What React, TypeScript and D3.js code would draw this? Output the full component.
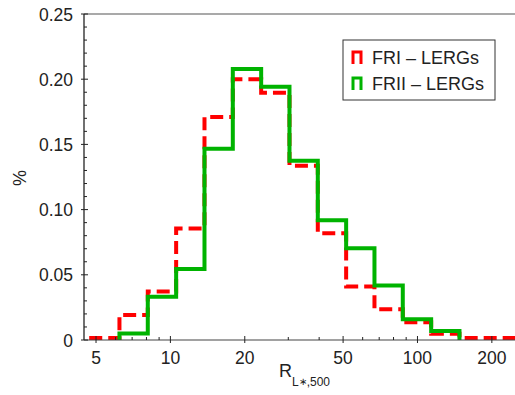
import React from "react";
import * as d3 from "d3";

// Logarithmic bin edges of R_{L*,500}
const binEdges = [4.78, 6.22, 8.1, 10.55, 13.74, 17.89, 23.3, 30.34, 39.5, 51.44, 66.98, 87.21, 113.6, 147.9, 192.6, 250.7];

// Fraction of sources per bin
const friValues = [0.0015, 0.0192, 0.0372, 0.0856, 0.171, 0.2, 0.1897, 0.1337, 0.0818, 0.0411, 0.0235, 0.0136, 0.0048, 0.0016, 0.0016];
const friiValues = [0, 0.0049, 0.0331, 0.0544, 0.1467, 0.2078, 0.1943, 0.1375, 0.0918, 0.0703, 0.0417, 0.016, 0.0069, 0, 0];

const xMajorTicks = [5, 10, 20, 50, 100, 200];
const xMinorTicks = [6, 7, 8, 9, 30, 40, 60, 70, 80, 90, 300];
const yMajorTicks = [0, 0.05, 0.1, 0.15, 0.2, 0.25];
const yTickLabels = ["0", "0.05", "0.10", "0.15", "0.20", "0.25"];
const yMinorTicks = [0.01, 0.02, 0.03, 0.04, 0.06, 0.07, 0.08, 0.09, 0.11, 0.12, 0.13, 0.14, 0.16, 0.17, 0.18, 0.19, 0.21, 0.22, 0.23, 0.24];

const seriesNames = ["FRI – LERGs", "FRII – LERGs"];
const RED = "#ff0000";
const GREEN = "#00b300";
const FONT = "'Liberation Sans', Arial, sans-serif";

const W = 515;
const H = 395;
const left = 84;
const top = 14;
const bottom = 340;

const x = d3.scaleLog().domain([4.47, 260]).range([left, 520]);
const y = d3.scaleLinear().domain([0, 0.25]).range([bottom, top]);

// Outline of a histogram: vertical risers and flat tops, closed to zero at the ends
function stepPoints(values: number[]): [number, number][] {
  const pts: [number, number][] = [];
  const first = values.findIndex((v) => v > 0);
  let last = values.length - 1;
  while (last >= 0 && !(values[last] > 0)) last--;
  pts.push([binEdges[first], 0]);
  for (let i = first; i <= last; i++) {
    pts.push([binEdges[i], values[i]]);
    pts.push([binEdges[i + 1], values[i]]);
  }
  pts.push([binEdges[last + 1], 0]);
  return pts;
}

const line = d3
  .line<[number, number]>()
  .x((d) => x(d[0]))
  .y((d) => y(d[1]));

export default function App() {
  const redPath = line(stepPoints(friValues)) || "";
  const greenPath = line(stepPoints(friiValues)) || "";

  const legendX = 343;
  const legendY = 40;
  const legendRows = [
    { name: seriesNames[0], color: RED, baseline: 64 },
    { name: seriesNames[1], color: GREEN, baseline: 90 },
  ];

  return (
    <svg
      width={W}
      height={H}
      style={{ position: "absolute", left: 0, top: 0, background: "#fff" }}
      fontFamily={FONT}
    >
      <defs>
        <clipPath id="plot-clip">
          <rect x={left} y={top - 5} width={W - left} height={bottom - top + 10} />
        </clipPath>
      </defs>

      {/* histograms */}
      <g clipPath="url(#plot-clip)" fill="none" strokeLinejoin="miter">
        <path d={redPath} stroke={RED} strokeWidth={4} strokeDasharray="13,6" />
        <path d={greenPath} stroke={GREEN} strokeWidth={4} />
      </g>

      {/* frame */}
      <line x1={left} x2={W} y1={top} y2={top} stroke="#555" strokeWidth={1.2} />
      <line x1={left} x2={left} y1={top} y2={bottom} stroke="#111" strokeWidth={1.2} />
      <line x1={left} x2={W} y1={bottom} y2={bottom} stroke="#444" strokeWidth={1.2} />

      {/* x ticks */}
      {xMajorTicks.map((t) => (
        <g key={`xM${t}`}>
          <line x1={x(t)} x2={x(t)} y1={bottom - 4} y2={bottom + 3} stroke="#222" strokeWidth={1} />
          <text x={x(t)} y={364} textAnchor="middle" fontSize={17.5} fill="#222">
            {t}
          </text>
        </g>
      ))}
      {xMinorTicks
        .filter((t) => x(t) < W)
        .map((t) => (
          <line key={`xm${t}`} x1={x(t)} x2={x(t)} y1={bottom - 3} y2={bottom} stroke="#222" strokeWidth={1} />
        ))}

      {/* y ticks */}
      {yMajorTicks.map((t, i) => (
        <g key={`yM${t}`}>
          <line x1={left - 3} x2={left + 4} y1={y(t)} y2={y(t)} stroke="#222" strokeWidth={1} />
          <text x={73} y={y(t) + 6.5} textAnchor="end" fontSize={17.5} fill="#222">
            {yTickLabels[i]}
          </text>
        </g>
      ))}
      {yMinorTicks.map((t) => (
        <line key={`ym${t}`} x1={left} x2={left + 3} y1={y(t)} y2={y(t)} stroke="#222" strokeWidth={1} />
      ))}

      {/* axis titles */}
      <text x={279} y={377} fontSize={18} fill="#222">
        R
        <tspan fontSize={12} dy={9}>L</tspan>
        <tspan fontSize={10} dy={-1}>∗</tspan>
        <tspan fontSize={12} dy={1}>,500</tspan>
      </text>
      <text
        transform={`translate(26,178) rotate(-90)`}
        textAnchor="middle"
        fontSize={18}
        fill="#222"
      >
        %
      </text>

      {/* legend */}
      <rect x={legendX} y={legendY} width={152} height={60} fill="#fff" stroke="#333" strokeWidth={1} />
      {legendRows.map((r) => (
        <g key={r.name}>
          <path
            d={`M${353},${r.baseline} L${353},${r.baseline - 12} L${361},${r.baseline - 12} L${361},${r.baseline}`}
            fill="none"
            stroke={r.color}
            strokeWidth={3}
          />
          <text x={372} y={r.baseline} fontSize={18} fill="#222">
            {r.name}
          </text>
        </g>
      ))}
    </svg>
  );
}
